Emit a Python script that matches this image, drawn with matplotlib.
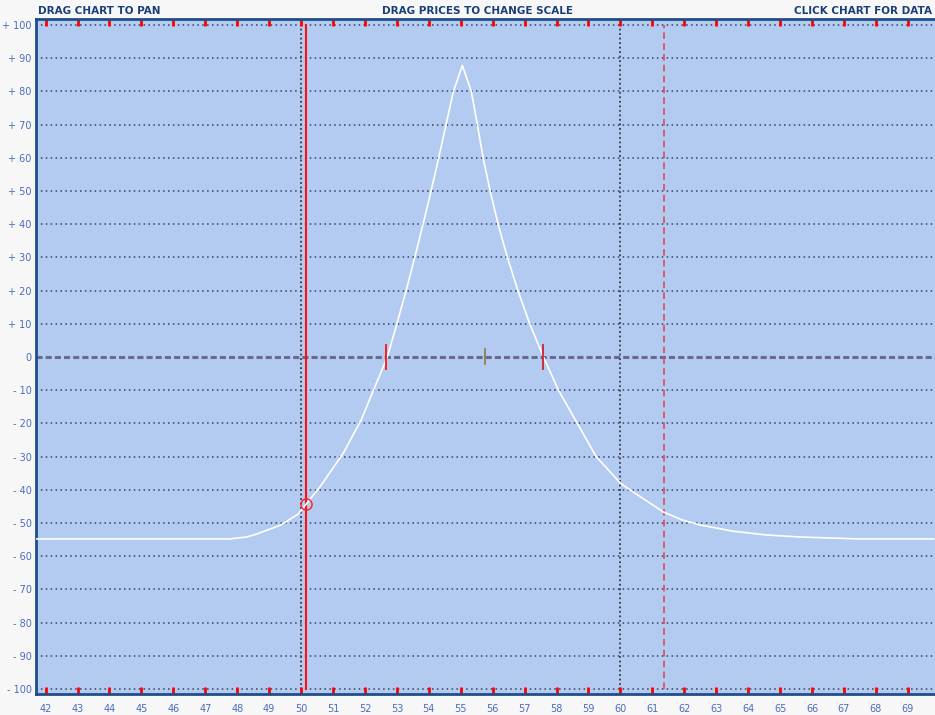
import matplotlib
matplotlib.use('Agg')
import matplotlib.pyplot as plt
import numpy as np

# payoff curve
price = [41.63, 47.77, 48.30, 48.59, 49.37, 49.91, 50.16, 50.60, 51.32, 51.88, 52.70,
         53.00, 53.29, 53.56, 53.82, 54.07, 54.31, 54.54, 54.77, 55.05,
         55.33, 55.52, 55.70, 55.92, 56.17, 56.46, 56.79, 57.16, 57.59,
         58.06, 58.65, 59.24, 60.00, 60.31, 61.35, 61.91, 62.45, 63.48,
         64.55, 65.58, 67.46, 69.81]
pnl = [-54.8, -54.8, -54.2, -53.4, -50.6, -47.3, -44.3, -39.0, -29.0, -19.0, 0.0,
       10, 20, 30, 40, 50, 60, 70, 80, 87.8,
       80, 70, 60, 50, 40, 30, 20, 10, 0,
       -10, -20, -30, -38.0, -40.1, -46.7, -49, -50.5, -52.4,
       -53.6, -54.2, -54.8, -54.8]

x_ticks = list(range(42, 70))
y_ticks = list(range(-100, 101, 10))
y_labels = ['0' if v == 0 else ('+ %d' % v if v > 0 else '- %d' % -v) for v in y_ticks]

current_price = 50.15
current_pnl = -44.3
expiry_line = 61.35
breakevens = [52.66, 57.59]
mid_marker = 55.76

fig = plt.figure(figsize=(9.35, 7.15), dpi=100, facecolor='#f7f7f7')
ax = fig.add_axes([0.0385, 0.0294, 0.9615, 0.944])
ax.set_facecolor('#b3cbf0')
ax.set_xlim(41.7, 69.85)
ax.set_ylim(-101.5, 101.8)

# grid
for v in y_ticks:
    if v == 0:
        continue
    ax.axhline(v, color='#3a3f66', lw=1.1, ls=(0, (1, 2.2)), zorder=1)
ax.axhline(0, color='#6a6a8e', lw=2.2, ls=(0, (2, 1)), zorder=1)
for v in [50, 60]:
    ax.axvline(v, color='#3a3a4a', lw=1.3, ls=(0, (1, 1.5)), zorder=1)

ax.plot([current_price, current_price], [-100, 100], color='#ff1010', lw=1.5, zorder=3)
ax.plot([expiry_line, expiry_line], [-100, 100], color='#e04a55', lw=1.2,
        ls=(0, (4, 2.5)), zorder=3)

ax.plot(price, pnl, color='white', lw=1.2, zorder=4)

ax.plot([breakevens[0]] * 2, [-3.7, 3.7], color='#ff1010', lw=1.3, zorder=5)
ax.plot([breakevens[1]] * 2, [-3.7, 3.7], color='#d02030', lw=1.3, zorder=5)
ax.plot([mid_marker] * 2, [-2.2, 2.4], color='#8a8450', lw=1.3, zorder=5)
ax.plot([current_price], [current_pnl], 'o', mfc='none', mec='#ff2020', ms=8, mew=1, zorder=6)

ax.set_xticks(x_ticks)
ax.set_xticklabels([str(v) for v in x_ticks])
ax.set_yticks(y_ticks)
ax.set_yticklabels(y_labels)
ax.tick_params(axis='x', direction='in', top=True, bottom=True, length=5, width=2,
               color='#ff0000', labelcolor='#4a6cc0', labelsize=7, pad=7)
ax.tick_params(axis='y', length=0, labelcolor='#4a6cc0', labelsize=7, pad=3)

for s in ['left', 'top', 'bottom']:
    ax.spines[s].set_color('#1f4f8a')
    ax.spines[s].set_linewidth(2)
ax.spines['right'].set_visible(False)

tkw = dict(color='#1a3f78', fontsize=7.5, fontweight='bold', va='center')
fig.text(38 / 935, 1 - 11 / 715, 'DRAG CHART TO PAN', ha='left', **tkw)
fig.text(478 / 935, 1 - 11 / 715, 'DRAG PRICES TO CHANGE SCALE', ha='center', **tkw)
fig.text(932 / 935, 1 - 11 / 715, 'CLICK CHART FOR DATA', ha='right', **tkw)

fig.savefig('out.png', dpi=100, facecolor=fig.get_facecolor())
